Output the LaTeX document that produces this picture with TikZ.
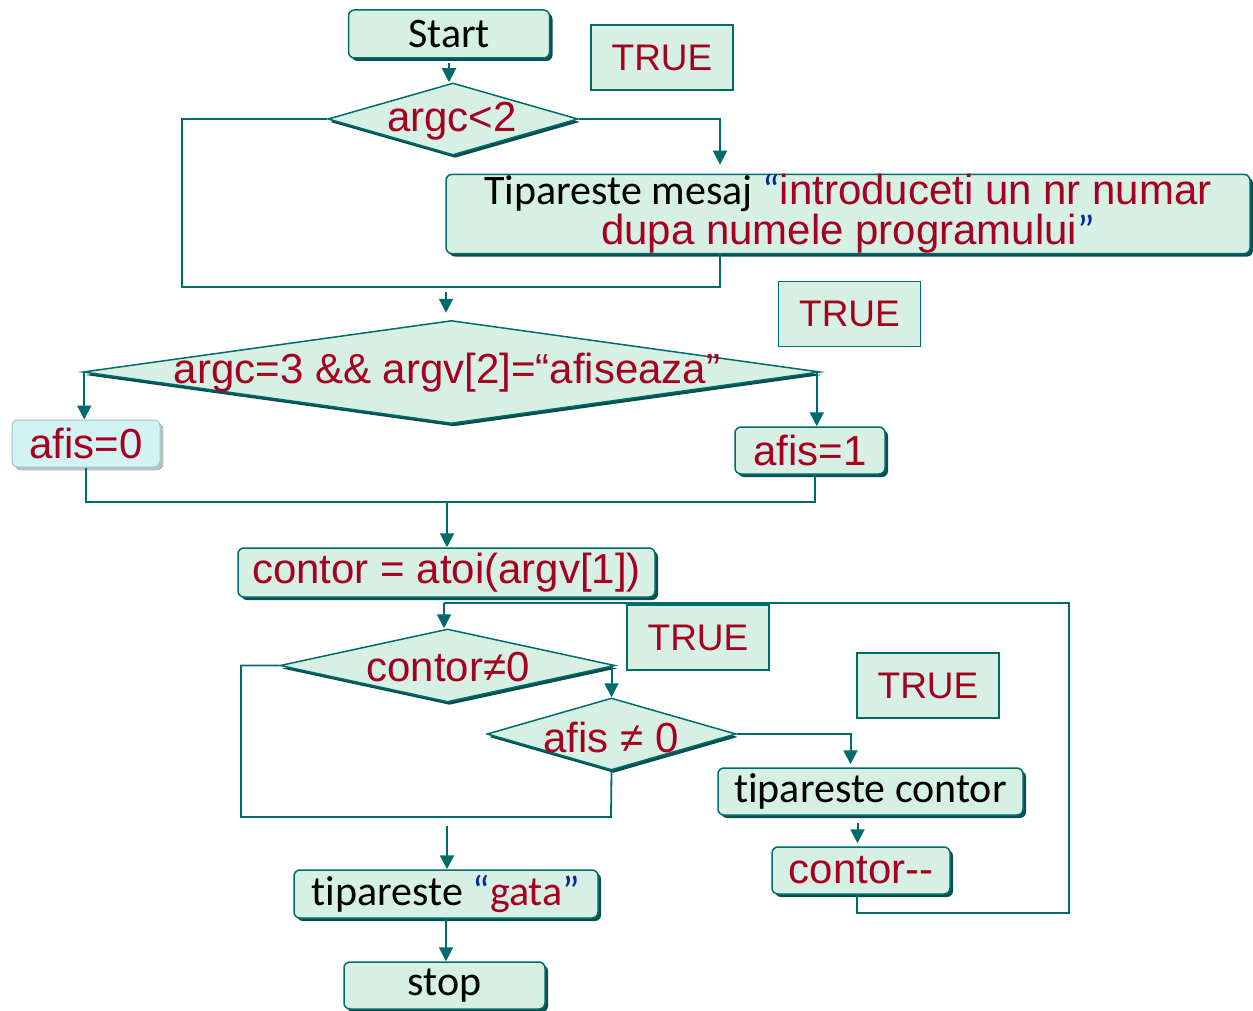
\documentclass[tikz,border=0pt]{standalone}
\usepackage{fontspec}
\setmainfont{Carlito}[Ligatures=CommonOff]
\newfontfamily\arial{Liberation Sans}
\usetikzlibrary{shapes.geometric,arrows.meta,shadows,calc}
\definecolor{boxfill}{HTML}{D6F1E3}
\definecolor{tealc}{HTML}{006B6B}
\definecolor{shadc}{HTML}{0A4F4F}
\definecolor{redc}{HTML}{A50021}
\definecolor{bluec}{HTML}{0028A0}
\definecolor{cyanfill}{HTML}{D3F3F3}
\newcommand{\rt}[1]{{\arial\color{redc}#1}}
\newcommand{\bq}[1]{{\color{bluec}#1}}
\begin{document}
\begin{tikzpicture}[x=1pt,y=-1pt,
  proc/.style={rectangle,rounded corners=6pt,fill=boxfill,draw=tealc,line width=1.5pt,
    inner sep=0pt,font=\fontsize{42}{40}\selectfont,
    drop shadow={shadow xshift=3pt,shadow yshift=-3pt,fill=shadc,opacity=1}},
  truebox/.style={rectangle,fill=boxfill,draw=tealc,line width=1.1pt,inner sep=0pt,
    minimum width=142pt,minimum height=65pt,font=\arial\fontsize{37}{37}\selectfont,text=redc},
  dia/.style={diamond,fill=boxfill,draw=tealc,line width=1.5pt,inner sep=0pt,
    drop shadow={shadow xshift=2pt,shadow yshift=-3pt,fill=shadc,opacity=1}},
  rlab/.style={font=\arial\fontsize{42}{42}\selectfont,text=redc,inner sep=0pt},
  conn/.style={draw=tealc,line width=1.8pt},
  arr/.style={conn,line width=2pt,-{Triangle[width=14pt,length=14pt]}}]
\useasboundingbox (0,0) rectangle (1253,1011);

% nodes
\node[proc,minimum width=201pt,minimum height=48pt] (start) at (449,34) {Start};
\node[truebox] (t1) at (662,57.5) {TRUE};
\node[dia,minimum width=250pt,minimum height=72pt] (d1) at (453,119) {};
\node[rlab] at (452,121) {argc<2};
\node[proc,minimum width=804pt,minimum height=78pt,align=center] (msg) at (848,214)
  {Tipareste mesaj \bq{“}\rt{introduceti un nr numar}\\\rt{dupa numele programului}\bq{”}};
\node[truebox] (t2) at (849.5,314) {TRUE};
\node[dia,minimum width=737pt,minimum height=103pt] (d2) at (451.5,372) {};
\node[rlab] at (447,373) {argc=3 \&\& argv[2]=“afiseaza”};
\node[proc,fill=cyanfill,draw=cyanfill!70!tealc,line width=1pt,minimum width=148pt,minimum height=47pt,
  drop shadow={shadow xshift=3pt,shadow yshift=-3pt,fill=gray!50,opacity=1},
  font=\arial\fontsize{42}{42}\selectfont,text=redc] (afis0) at (86,443.5) {afis=0};
\node[proc,minimum width=150pt,minimum height=47pt,font=\arial\fontsize{42}{42}\selectfont,text=redc]
  (afis1) at (810,450.5) {afis=1};
\node[proc,minimum width=417pt,minimum height=49pt,font=\arial\fontsize{42}{42}\selectfont,text=redc]
  (contor) at (446.5,572.5) {contor = atoi(argv[1])};
\node[truebox] (t3) at (698,637.5) {TRUE};
\node[dia,minimum width=335pt,minimum height=73pt] (d3) at (447.5,665.5) {};
\node[rlab] at (448,667) {contor≠0};
\node[dia,minimum width=249pt,minimum height=72pt] (d4) at (611.5,734) {};
\node[rlab] at (611,737) {afis ≠ 0};
\node[truebox] (t4) at (928,685.5) {TRUE};
\node[proc,minimum width=305pt,minimum height=47pt] (tipc) at (870.5,791.5) {tipareste contor};
\node[proc,minimum width=178pt,minimum height=47pt,font=\arial\fontsize{42}{42}\selectfont,text=redc]
  (cdec) at (861,870.5) {contor--};
\node[proc,minimum width=304pt,minimum height=48pt] (gata) at (446,894)
  {tipareste \bq{“}{\color{redc}gata}\bq{”}};
\node[proc,minimum width=201pt,minimum height=47pt] (stop) at (444.5,985.5) {stop};

% coordinates
\coordinate (c1) at (182,287);
\coordinate (c2) at (720,287);
\coordinate (j1) at (446,292);
\coordinate (j2) at (447,502);
\coordinate (j3) at (444,603);
\coordinate (c3) at (1069,913);
\coordinate (c4) at (241,817);
\coordinate (c5) at (611,817);
\coordinate (j4) at (447,826);

% connectors
\draw[arr,shorten <=4pt] (start.south) -- (start.south |- d1.north);
\draw[arr,shorten >=9pt] (d1.east) -| ([xshift=-128pt]msg.north);
\draw[conn] (d1.west) -| (c1) -- (c2) -- (c2 |- msg.south);
\draw[arr,shorten >=7pt] (j1) -- (j1 |- d2.north);
\draw[arr] ([xshift=2pt]d2.west) -- ([xshift=2pt]d2.west |- afis0.north);
\draw[arr] ([xshift=-4pt]d2.east) -- ([xshift=-4pt]d2.east |- afis1.north);
\draw[conn,line width=1.3pt] (afis0.south) |- (j2) -| ([xshift=5pt]afis1.south);
\draw[arr] (j2) -- (contor.north -| j2);
\draw[arr] (j3) -- (j3 |- d3.north);
\draw[conn] ([xshift=-4pt]cdec.south) |- (c3) |- (j3);
\draw[arr] (d4.north |- d3.east) -- (d4.north);
\draw[arr,shorten >=3pt] (d4.east) -| ([xshift=-20pt]tipc.north);
\draw[arr,shorten <=7pt,shorten >=3pt] ([xshift=-13pt]tipc.south) -- ([xshift=-13pt]tipc.south |- cdec.north);
\draw[conn] (d3.west) -| (c4) -- (c5) -- (d4.south);
\draw[arr] (j4) -- (gata.north -| j4);
\draw[arr] (gata.south) -- (gata.south |- stop.north);
\end{tikzpicture}
\end{document}
